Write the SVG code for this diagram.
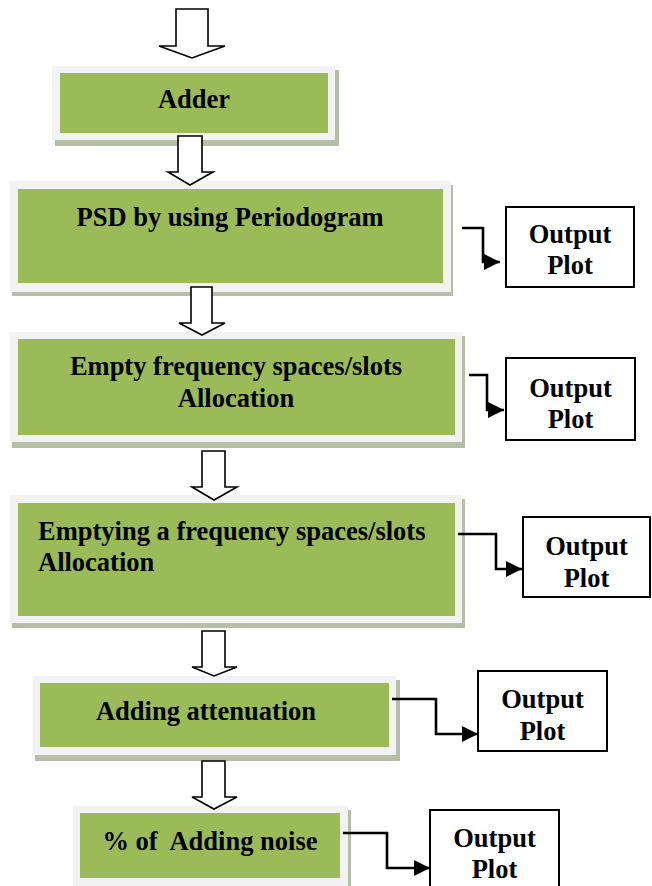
<svg xmlns="http://www.w3.org/2000/svg" width="652" height="886" viewBox="0 0 652 886">
<defs>
<style>
.shadow{fill:#b7bea7}
.outer{fill:#f2f2f2}
.green{fill:#9bbb59}
.t{font-family:"Liberation Serif","Times New Roman",serif;font-weight:bold;font-size:26.5px;fill:#000}
.c{text-anchor:middle}
.obox{fill:#fff;stroke:#000;stroke-width:2}
.blk{fill:#fff;stroke:#000;stroke-width:1.6;stroke-linejoin:miter}
.con{fill:none;stroke:#000;stroke-width:2.6}
</style>
<marker id="ah" markerUnits="userSpaceOnUse" markerWidth="16" markerHeight="16" refX="16" refY="8" orient="auto">
<path d="M0,0 L16,8 L0,16 z" fill="#000"/>
</marker>
</defs>
<rect width="652" height="886" fill="#fff"/>

<g id="adder">
<rect class="shadow" x="55" y="70" width="284" height="76"/>
<rect class="outer" x="52" y="66" width="283" height="74"/>
<rect class="green" x="60" y="73" width="268" height="60"/>
<text class="t c" x="194" y="108">Adder</text>
</g>

<g id="psd">
<rect class="shadow" x="12" y="185" width="441" height="111"/>
<rect class="outer" x="10" y="181" width="441" height="111"/>
<rect class="green" x="18" y="189" width="425" height="94"/>
<text class="t c" x="230" y="226">PSD by using Periodogram</text>
</g>

<g id="empty">
<rect class="shadow" x="12" y="336" width="453" height="112"/>
<rect class="outer" x="10" y="332" width="452" height="110"/>
<rect class="green" x="18" y="339" width="437" height="96"/>
<text class="t c" x="236" y="375">Empty frequency spaces/slots</text>
<text class="t c" x="236" y="407">Allocation</text>
</g>

<g id="emptying">
<rect class="shadow" x="12" y="499" width="453" height="129"/>
<rect class="outer" x="10" y="495" width="452" height="128"/>
<rect class="green" x="18" y="503" width="437" height="113"/>
<text class="t" x="38" y="540">Emptying a frequency spaces/slots</text>
<text class="t" x="38" y="571">Allocation</text>
</g>

<g id="attenuation">
<rect class="shadow" x="35" y="680" width="365" height="81"/>
<rect class="outer" x="32.5" y="676" width="363.5" height="79"/>
<rect class="green" x="40" y="683" width="349" height="64"/>
<text class="t c" x="206" y="720">Adding attenuation</text>
</g>

<g id="noise">
<rect class="shadow" x="76" y="810" width="275" height="80"/>
<rect class="outer" x="73" y="806" width="275" height="80"/>
<rect class="green" x="80" y="813" width="260" height="65"/>
<text class="t c" x="210" y="850" xml:space="preserve">% of  Adding noise</text>
</g>

<g id="out1">
<rect class="obox" x="506" y="207" width="128" height="80"/>
<text class="t c" x="570" y="243">Output</text>
<text class="t c" x="570" y="274">Plot</text>
</g>
<g id="out2">
<rect class="obox" x="506" y="358" width="129" height="82"/>
<text class="t c" x="570.5" y="397">Output</text>
<text class="t c" x="570.5" y="428">Plot</text>
</g>
<g id="out3">
<rect class="obox" x="523" y="517" width="127" height="80"/>
<text class="t c" x="586.5" y="555">Output</text>
<text class="t c" x="586.5" y="587">Plot</text>
</g>
<g id="out4">
<rect class="obox" x="478" y="671" width="129" height="80"/>
<text class="t c" x="542.5" y="708">Output</text>
<text class="t c" x="542.5" y="740">Plot</text>
</g>
<g id="out5">
<rect class="obox" x="430" y="810" width="129" height="84"/>
<text class="t c" x="494.5" y="847">Output</text>
<text class="t c" x="494.5" y="878">Plot</text>
</g>

<g id="connectors">
<polygon class="blk" points="176,9 208,9 208,46 225,46 192,58 159,46 176,46"/>
<polygon class="blk" points="178,136 202,136 202,172 213,172 190,185 168,172 178,172"/>
<polygon class="blk" points="191,287 212,287 212,323 225,323 202,335 179,323 191,323"/>
<polygon class="blk" points="202,451 225,451 225,487 237,487 214,500 192,487 202,487"/>
<polygon class="blk" points="202,631 225,631 225,667 237,667 214,676 192,667 202,667"/>
<polygon class="blk" points="202,761 225,761 225,797 237,797 214,809 192,797 202,797"/>
<path class="con" d="M462,228 H483 V262 H500" marker-end="url(#ah)"/>
<path class="con" d="M469,375 H487 V410 H504" marker-end="url(#ah)"/>
<path class="con" d="M458,534 H496 V569 H522" marker-end="url(#ah)"/>
<path class="con" d="M392,699 H436 V734 H478" marker-end="url(#ah)"/>
<path class="con" d="M343,833 H387 V868 H430" marker-end="url(#ah)"/>
</g>
</svg>
